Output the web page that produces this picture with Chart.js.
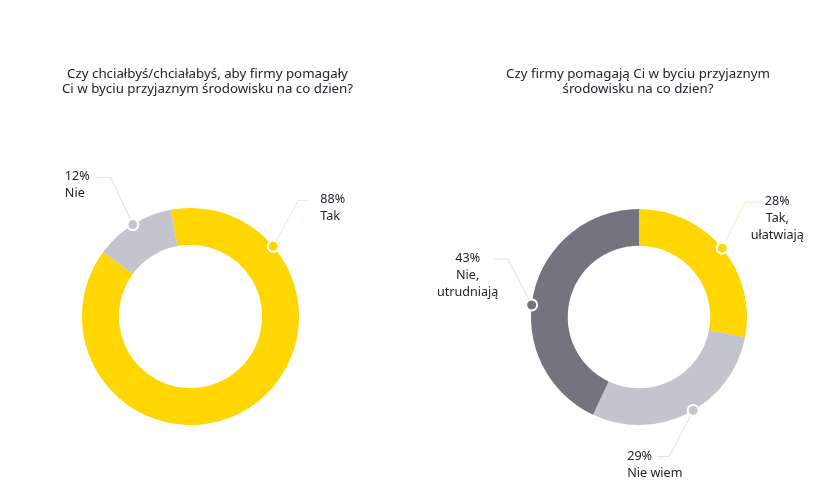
<!DOCTYPE html>
<html>
<head>
<meta charset="utf-8">
<script src="https://cdn.jsdelivr.net/npm/chart.js@4.4.1/dist/chart.umd.min.js"></script>
<style>
  html, body { margin: 0; padding: 0; background: #fff; }
  #wrap { position: relative; width: 840px; height: 480px; }
  .box { position: absolute; top: 0; height: 480px; }
  #box-left { left: 0; width: 415px; }
  #box-right { left: 436px; width: 404px; }
</style>
</head>
<body>
<div id="wrap">
  <div class="box" id="box-left"><canvas id="chart-left"></canvas></div>
  <div class="box" id="box-right"><canvas id="chart-right"></canvas></div>
</div>
<script>
// Dane wykresów
const leftTitle = ['Czy chciałbyś/chciałabyś, aby firmy pomagały', 'Ci w byciu przyjaznym środowisku na co dzien?'];
const leftLabels = [['Tak'], ['Nie']];
const leftValues = [88, 12];

const rightTitle = ['Czy firmy pomagają Ci w byciu przyjaznym', 'środowisku na co dzien?'];
const rightLabels = [['Tak,', 'ułatwiają'], ['Nie wiem'], ['Nie,', 'utrudniają']];
const rightValues = [28, 29, 43];

const YELLOW = '#ffd600';
const LIGHT = '#c4c4cd';
const DARK = '#747480';
const TEXT = '#23232c';
const TITLE_FONT = '13.3px "Noto Sans", sans-serif';
const LABEL_FONT = '12.6px "Noto Sans", sans-serif';

// Tytuł nad wykresem
const titlePlugin = {
  id: 'titleLines',
  afterDraw(chart, args, opts) {
    const ctx = chart.ctx;
    ctx.save();
    ctx.font = TITLE_FONT;
    ctx.fillStyle = TEXT;
    ctx.textAlign = 'center';
    ctx.textBaseline = 'middle';
    opts.lines.forEach((line, i) => {
      ctx.fillText(line, chart.width / 2, opts.y + i * 15.5);
    });
    ctx.restore();
  }
};

// Etykiety z linią i kropką na krawędzi pierścienia
const calloutPlugin = {
  id: 'callouts',
  afterDraw(chart, args, opts) {
    const ctx = chart.ctx;
    const meta = chart.getDatasetMeta(0);
    const values = chart.data.datasets[0].data;
    const colors = chart.data.datasets[0].backgroundColor;
    meta.data.forEach((arc, i) => {
      const c = opts.items[i];
      const p = arc.getProps(['x', 'y', 'startAngle', 'endAngle', 'outerRadius'], true);
      const a = p.startAngle + (p.endAngle - p.startAngle) * c.at;
      const mx = p.x + Math.cos(a) * p.outerRadius;
      const my = p.y + Math.sin(a) * p.outerRadius;
      const ex = mx + c.elbow[0];
      const ey = my + c.elbow[1];
      const hx = ex + c.run;

      ctx.save();
      ctx.strokeStyle = c.line;
      ctx.lineWidth = 0.9;
      ctx.beginPath();
      ctx.moveTo(mx, my);
      ctx.lineTo(ex, ey);
      ctx.lineTo(hx, ey);
      ctx.stroke();

      ctx.beginPath();
      ctx.arc(mx, my, 5.5, 0, Math.PI * 2);
      ctx.fillStyle = colors[i];
      ctx.fill();
      ctx.lineWidth = 2;
      ctx.strokeStyle = '#fff';
      ctx.stroke();

      ctx.font = LABEL_FONT;
      ctx.fillStyle = TEXT;
      ctx.textAlign = c.align;
      ctx.textBaseline = 'middle';
      const lines = [values[i] + '%'].concat(chart.data.labels[i]);
      lines.forEach((t, k) => {
        ctx.fillText(t, hx + c.text[0], ey + c.text[1] + k * 17);
      });
      ctx.restore();
    });
  }
};

function makeChart(id, labels, values, colors, rotation, padding, title, items) {
  return new Chart(document.getElementById(id), {
    type: 'doughnut',
    data: {
      labels: labels,
      datasets: [{
        data: values,
        backgroundColor: colors,
        borderWidth: 0
      }]
    },
    options: {
      responsive: true,
      maintainAspectRatio: false,
      animation: false,
      events: [],
      rotation: rotation,
      cutout: '66%',
      layout: { padding: padding },
      plugins: {
        legend: { display: false },
        tooltip: { enabled: false },
        titleLines: { lines: title, y: 74 },
        callouts: { items: items }
      }
    },
    plugins: [titlePlugin, calloutPlugin]
  });
}

makeChart('chart-left', leftLabels, leftValues, [YELLOW, LIGHT], -10.5,
  { left: 82, right: 116, top: 208, bottom: 55 },
  leftTitle,
  [
    { at: 0.19, elbow: [25, -46], run: 11, text: [11, -1], align: 'left', line: '#efeac4' },
    { at: 0.5, elbow: [-22, -47], run: -14, text: [-32, -1], align: 'left', line: '#dcdce2' }
  ]);

makeChart('chart-right', rightLabels, rightValues, [YELLOW, LIGHT, DARK], 0,
  { left: 94, right: 92, top: 209, bottom: 55 },
  rightTitle,
  [
    { at: 0.5, elbow: [23, -46], run: 15, text: [17, -1], align: 'center', line: '#efeac4' },
    { at: 0.47, elbow: [-24, 46], run: -12, text: [-30, 0], align: 'left', line: '#dcdce2' },
    { at: 0.46, elbow: [-24, -46], run: -13, text: [-27, -1], align: 'center', line: '#dcdce2' }
  ]);
</script>
</body>
</html>
